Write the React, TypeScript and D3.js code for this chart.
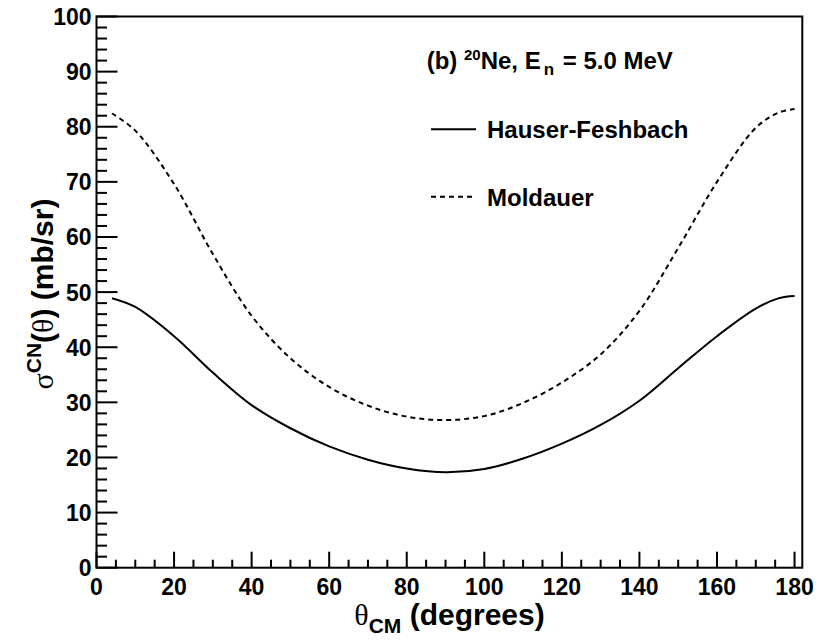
import React from "react";
import * as d3 from "d3";

// Centre-of-mass scattering angle (degrees)
const angles = [4, 10, 20, 30, 40, 50, 60, 70, 80, 90, 100, 110, 120, 130, 140, 150, 160, 170, 176, 180];
// Compound-nucleus elastic cross section, mb/sr
const hauserFeshbach = [48.9, 47.3, 42.0, 35.4, 29.5, 25.3, 22.0, 19.6, 18.0, 17.3, 17.9, 19.8, 22.5, 25.9, 30.3, 36.2, 42.0, 47.0, 48.9, 49.3];
const moldauer = [82.4, 79.3, 69.6, 56.9, 45.7, 38.0, 32.8, 29.4, 27.4, 26.8, 27.5, 29.9, 33.6, 38.7, 46.6, 58.0, 70.0, 79.8, 82.6, 83.2];

const xMajorTicks = [0, 20, 40, 60, 80, 100, 120, 140, 160, 180];
const yMajorTicks = [0, 10, 20, 30, 40, 50, 60, 70, 80, 90, 100];

const W = 821;
const H = 640;
const FONT = "'Liberation Sans', Arial, Helvetica, sans-serif";
const SYMBOL = "'Liberation Serif', 'Times New Roman', serif";

export default function App() {
  const x = d3.scaleLinear().domain([0, 182]).range([96.5, 802.3]);
  const y = d3.scaleLinear().domain([0, 100]).range([567.7, 16.5]);

  const line = (vals: number[]) =>
    d3
      .line<number>()
      .x((_, i) => x(angles[i]))
      .y((v) => y(v))
      .curve(d3.curveCatmullRom.alpha(0.5))(vals) || "";

  const xMinor = x.ticks(36).filter((t) => t <= 180 && !xMajorTicks.includes(t));
  const yMinor = y.ticks(50).filter((t) => !yMajorTicks.includes(t));

  const x0 = x(0);
  const x1 = x(182);
  const yb = y(0);
  const yt = y(100);

  return (
    <svg
      width={W}
      height={H}
      style={{ position: "absolute", left: 0, top: 0, background: "#fff" }}
      fontFamily={FONT}
    >
      <rect x={0} y={0} width={W} height={H} fill="#fff" />

      {/* curves */}
      <path d={line(hauserFeshbach)} fill="none" stroke="#000" strokeWidth={2} />
      <path d={line(moldauer)} fill="none" stroke="#000" strokeWidth={2} strokeDasharray="5,4" />

      {/* frame */}
      <rect x={x0} y={yt} width={x1 - x0} height={yb - yt} fill="none" stroke="#000" strokeWidth={2} />

      {/* x ticks */}
      {xMajorTicks.map((t) => (
        <line key={"xM" + t} x1={x(t)} x2={x(t)} y1={yb} y2={yb - 16} stroke="#000" strokeWidth={2} />
      ))}
      {xMinor.map((t) => (
        <line key={"xm" + t} x1={x(t)} x2={x(t)} y1={yb} y2={yb - 8} stroke="#000" strokeWidth={2} />
      ))}
      {/* y ticks */}
      {yMajorTicks.map((t) => (
        <line key={"yM" + t} x1={x0} x2={x0 + 21} y1={y(t)} y2={y(t)} stroke="#000" strokeWidth={2} />
      ))}
      {yMinor.map((t) => (
        <line key={"ym" + t} x1={x0} x2={x0 + 10.5} y1={y(t)} y2={y(t)} stroke="#000" strokeWidth={2} />
      ))}

      {/* tick labels */}
      {xMajorTicks.map((t) => (
        <text key={"xl" + t} x={x(t)} y={595} textAnchor="middle" fontSize={23} fontWeight="bold">
          {t}
        </text>
      ))}
      {yMajorTicks.map((t) => (
        <text key={"yl" + t} x={91.5} y={y(t) + 8.5} textAnchor="end" fontSize={23} fontWeight="bold">
          {t}
        </text>
      ))}

      {/* axis titles */}
      <text x={449.5} y={625} textAnchor="middle" fontSize={30} fontWeight="bold">
        <tspan fontFamily={SYMBOL} fontWeight="normal">θ</tspan>
        <tspan fontSize={21} dy={8}>CM</tspan>
        <tspan dy={-8}> (degrees)</tspan>
      </text>
      <text transform="translate(53,294) rotate(-90)" textAnchor="middle" fontSize={30} fontWeight="bold">
        <tspan fontFamily={SYMBOL} fontWeight="normal">σ</tspan>
        <tspan fontSize={21} dy={-12}>CN</tspan>
        <tspan dy={12}>(</tspan>
        <tspan fontFamily={SYMBOL} fontWeight="normal">θ</tspan>
        <tspan>) (mb/sr)</tspan>
      </text>

      {/* legend */}
      <text x={426.7} y={69.3} fontSize={24} fontWeight="bold">
        <tspan>(b) </tspan>
        <tspan fontSize={15} dy={-9}>20</tspan>
        <tspan dy={9}>Ne, E</tspan>
        <tspan fontSize={17} dx={3} dy={6}>n</tspan>
        <tspan dx={2} dy={-6}> = 5.0 MeV</tspan>
      </text>
      <line x1={431} x2={476} y1={129.3} y2={129.3} stroke="#000" strokeWidth={2} />
      <text x={487} y={138.3} fontSize={24} fontWeight="bold">Hauser-Feshbach</text>
      <line x1={431} x2={476} y1={196.7} y2={196.7} stroke="#000" strokeWidth={2} strokeDasharray="5,4" />
      <text x={487} y={206} fontSize={24} fontWeight="bold">Moldauer</text>
    </svg>
  );
}
